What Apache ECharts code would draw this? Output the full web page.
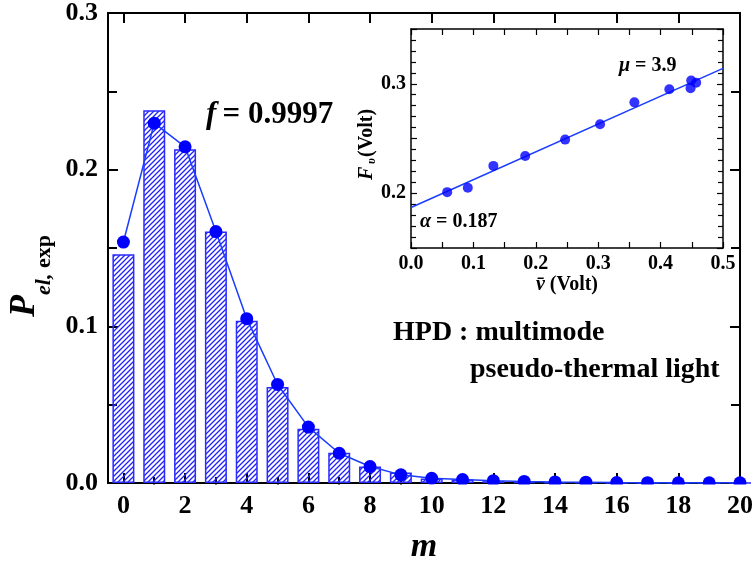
<!DOCTYPE html>
<html><head><meta charset="utf-8">
<script src="https://cdn.jsdelivr.net/npm/echarts@6/dist/echarts.min.js"></script>
<style>html,body{margin:0;padding:0;background:#fff}#c{width:756px;height:569px}</style>
</head><body><div id="c"></div>
<script>
// ---- data ----
const mValues = [0,1,2,3,4,5,6,7,8,9,10,11,12,13,14,15,16,17,18,19,20];
const pelExp  = [0.146,0.238,0.213,0.1605,0.1035,0.0613,0.0346,0.0193,0.0105,0.0067,0.0028,0.0022,0.0012,0.0006,0.0003,0.0002,0.0001,0,0,0,0];
const pelFit  = [0.1538,0.2297,0.2146,0.1605,0.1049,0.0629,0.0357,0.0190,0.0105,0.0052,0.0030,0.0022,0.0015,0.0010,0.0007,0.0005,0.0003,0.0002,0.0001,0.0001,0.0001];
const xMajorTicks = [0,2,4,6,8,10,12,14,16,18,20];
const xMinorTicks = [1,3,5,7,9,11,13,15,17,19];
const insetV  = [0.058,0.091,0.132,0.183,0.247,0.303,0.358,0.414,0.449,0.448,0.457];
const insetF  = [0.201,0.205,0.225,0.234,0.249,0.263,0.283,0.295,0.303,0.296,0.301];
const fitV = [0, 0.5];
const fitF = [0.187, 0.314];
const insetYLabels = [0.2, 0.3];

const FF = '"Liberation Serif","Times New Roman",serif';
const BLUE = '#0000ff';

function hatch(){
  const c = document.createElement('canvas'); c.width = 5; c.height = 5;
  const g = c.getContext('2d');
  g.strokeStyle = '#2222ff'; g.lineWidth = 1.3;
  g.beginPath();
  g.moveTo(-1,6); g.lineTo(6,-1);
  g.moveTo(-3.5,3.5); g.lineTo(3.5,-3.5);
  g.moveTo(1.5,8.5); g.lineTo(8.5,1.5);
  g.stroke();
  return c;
}

const lblMain = {fontFamily:FF, fontWeight:'bold', fontSize:26, color:'#000'};
const lblInset = {fontFamily:FF, fontWeight:'bold', fontSize:20, color:'#000'};
const blackLine = w => ({show:true, onZero:false, lineStyle:{color:'#000', width:w}});

const chart = echarts.init(document.getElementById('c'), null, {renderer:'canvas'});
const option = {
  animation:false,
  backgroundColor:'#fff',
  grid:[
    {left:108, right:15, top:10, bottom:82},
    {left:411, right:33, top:29, bottom:321}
  ],
  xAxis:[
    {gridIndex:0, type:'value', position:'bottom', min:-0.5, max:20,
     axisLine:blackLine(2),
     axisTick:{show:true, inside:true, length:10, customValues:xMajorTicks, lineStyle:{color:'#000', width:2}},
     axisLabel:Object.assign({customValues:xMajorTicks, margin:10}, lblMain),
     splitLine:{show:false},
     name:'m', nameLocation:'middle', nameGap:47,
     nameTextStyle:{fontFamily:FF, fontWeight:'bold', fontStyle:'italic', fontSize:34, color:'#000'}},
    {gridIndex:0, type:'value', position:'bottom', min:-0.5, max:20,
     axisLine:{show:false},
     axisTick:{show:true, inside:true, length:6, customValues:xMinorTicks, lineStyle:{color:'#000', width:2}},
     axisLabel:{show:false}, splitLine:{show:false}},
    {gridIndex:0, type:'value', position:'top', min:-0.5, max:20,
     axisLine:blackLine(2),
     axisTick:{show:true, inside:true, length:10, customValues:xMajorTicks, lineStyle:{color:'#000', width:2}},
     axisLabel:{show:false}, splitLine:{show:false}},
    {gridIndex:0, type:'value', position:'top', min:-0.5, max:20,
     axisLine:{show:false},
     axisTick:{show:true, inside:true, length:6, customValues:xMinorTicks, lineStyle:{color:'#000', width:2}},
     axisLabel:{show:false}, splitLine:{show:false}},
    {gridIndex:1, type:'value', position:'bottom', min:0, max:0.5, interval:0.1,
     axisLine:blackLine(1.5),
     axisTick:{show:true, inside:true, length:6, lineStyle:{color:'#000', width:1.2}},
     minorTick:{show:true, splitNumber:2, length:6, lineStyle:{color:'#000', width:1.2}},
     axisLabel:Object.assign({margin:6, formatter:v=>v.toFixed(1)}, lblInset),
     splitLine:{show:false}, minorSplitLine:{show:false},
     name:'{v|v\u0304} (Volt)', nameLocation:'middle', nameGap:25,
     nameTextStyle:{fontFamily:FF, fontWeight:'bold', fontSize:20, color:'#000',
       rich:{v:{fontFamily:FF, fontWeight:'bold', fontStyle:'italic', fontSize:20, color:'#000'}}}},
    {gridIndex:1, type:'value', position:'top', min:0, max:0.5, interval:0.1,
     axisLine:blackLine(1.5),
     axisTick:{show:true, inside:true, length:6, lineStyle:{color:'#000', width:1.2}},
     minorTick:{show:true, splitNumber:2, length:6, lineStyle:{color:'#000', width:1.2}},
     axisLabel:{show:false}, splitLine:{show:false}, minorSplitLine:{show:false}}
  ],
  yAxis:[
    {gridIndex:0, type:'value', position:'left', min:0, max:0.3, interval:0.1,
     axisLine:blackLine(2),
     axisTick:{show:true, inside:true, length:10, lineStyle:{color:'#000', width:2}},
     minorTick:{show:true, splitNumber:2, length:9, lineStyle:{color:'#000', width:2}},
     axisLabel:Object.assign({margin:10, formatter:v=>v.toFixed(1)}, lblMain),
     splitLine:{show:false}, minorSplitLine:{show:false}},
    {gridIndex:0, type:'value', position:'right', min:0, max:0.3, interval:0.1,
     axisLine:blackLine(2),
     axisTick:{show:true, inside:true, length:10, lineStyle:{color:'#000', width:2}},
     minorTick:{show:true, splitNumber:2, length:9, lineStyle:{color:'#000', width:2}},
     axisLabel:{show:false}, splitLine:{show:false}, minorSplitLine:{show:false}},
    {gridIndex:1, type:'value', position:'left', min:0.15, max:0.35, interval:0.05,
     axisLine:blackLine(1.5),
     axisTick:{show:true, inside:true, length:6, lineStyle:{color:'#000', width:1.2}},
     minorTick:{show:true, splitNumber:5, length:5, lineStyle:{color:'#000', width:1.2}},
     axisLabel:Object.assign({margin:5, customValues:insetYLabels, formatter:v=>v.toFixed(1)}, lblInset),
     splitLine:{show:false}, minorSplitLine:{show:false}},
    {gridIndex:1, type:'value', position:'right', min:0.15, max:0.35, interval:0.05,
     axisLine:blackLine(1.5),
     axisTick:{show:true, inside:true, length:6, lineStyle:{color:'#000', width:1.2}},
     minorTick:{show:true, splitNumber:5, length:5, lineStyle:{color:'#000', width:1.2}},
     axisLabel:{show:false}, splitLine:{show:false}, minorSplitLine:{show:false}}
  ],
  series:[
    {type:'bar', xAxisIndex:0, yAxisIndex:0, barWidth:22,
     data: mValues.map((m,i)=>[m, pelExp[i]]),
     itemStyle:{color:{image:hatch(), repeat:'repeat'}, borderColor:'#2a2aff', borderWidth:1.5},
     z:2},
    {type:'line', xAxisIndex:0, yAxisIndex:0,
     data: mValues.map((m,i)=>[m, pelFit[i]]),
     symbol:'circle', symbolSize:13, showAllSymbol:true,
     itemStyle:{color:BLUE}, lineStyle:{color:'#1a3cff', width:1.5}, z:4, clip:false},
    {type:'line', xAxisIndex:4, yAxisIndex:2,
     data: fitV.map((v,i)=>[v, fitF[i]]),
     symbol:'none', lineStyle:{color:'#1a3cff', width:1.5}, z:3},
    {type:'scatter', xAxisIndex:4, yAxisIndex:2,
     data: insetV.map((v,i)=>[v, insetF[i]]),
     symbolSize:10, itemStyle:{color:BLUE}, z:4}
  ],
  graphic:[
    {type:'group', x:30, y:275, rotation:Math.PI/2, children:[
      {type:'text', x:-42, y:-5, style:{text:'P', fontFamily:FF, fontWeight:'bold', fontStyle:'italic', fontSize:36, fill:'#000', align:'left', verticalAlign:'middle'}},
      {type:'text', x:-20, y:14, style:{text:'{i|el,}{n| exp}', fontFamily:FF, fontWeight:'bold', fontSize:22, fill:'#000', align:'left', verticalAlign:'middle',
        rich:{i:{fontFamily:FF, fontWeight:'bold', fontStyle:'italic', fontSize:22, fill:'#000'}, n:{fontFamily:FF, fontWeight:'bold', fontSize:22, fill:'#000'}}}}
    ]},
    {type:'group', x:367, y:148, rotation:Math.PI/2, children:[
      {type:'text', x:-32, y:0, style:{text:'F', fontFamily:FF, fontWeight:'bold', fontStyle:'italic', fontSize:20, fill:'#000', align:'left', verticalAlign:'middle'}},
      {type:'text', x:-16, y:5, style:{text:'\u03c5', fontFamily:FF, fontWeight:'bold', fontStyle:'italic', fontSize:12, fill:'#000', align:'left', verticalAlign:'middle'}},
      {type:'text', x:-9, y:0, style:{text:'(Volt)', fontFamily:FF, fontWeight:'bold', fontSize:20, fill:'#000', align:'left', verticalAlign:'middle'}}
    ]},
    {type:'text', left:206, top:99, style:{text:'{i|f}{n|\u2009= 0.9997}', fontFamily:FF, fontWeight:'bold', fontSize:31, fill:'#000',
      rich:{i:{fontFamily:FF, fontWeight:'bold', fontStyle:'italic', fontSize:31, fill:'#000'}, n:{fontFamily:FF, fontWeight:'bold', fontSize:31, fill:'#000'}}}},
    {type:'text', left:393, top:319, style:{text:'HPD : multimode', fontFamily:FF, fontWeight:'bold', fontSize:28, fill:'#000'}},
    {type:'text', left:470, top:356, style:{text:'pseudo-thermal light', fontFamily:FF, fontWeight:'bold', fontSize:28, fill:'#000'}},
    {type:'text', left:420, top:212, style:{text:'{i|\u03b1} = 0.187', fontFamily:FF, fontWeight:'bold', fontSize:20, fill:'#000',
      rich:{i:{fontFamily:FF, fontWeight:'bold', fontStyle:'italic', fontSize:20, fill:'#000'}}}},
    {type:'text', left:619, top:56, style:{text:'{i|\u03bc} = 3.9', fontFamily:FF, fontWeight:'bold', fontSize:20, fill:'#000',
      rich:{i:{fontFamily:FF, fontWeight:'bold', fontStyle:'italic', fontSize:20, fill:'#000'}}}}
  ]
};
chart.setOption(option);
// white mask hiding the part of the markers that falls below the main x axis (clipping like the original)
const y0 = chart.convertToPixel({yAxisIndex:0}, 0);
const gl = chart.convertToPixel({xAxisIndex:0}, -0.5);
const gr = chart.convertToPixel({xAxisIndex:0}, 20);
chart.setOption({graphic:[{type:'rect', id:'mask', z:100, shape:{x:gl-10, y:y0+1.5, width:gr-gl+20, height:7}, style:{fill:'#fff'}}]});
</script></body></html>
